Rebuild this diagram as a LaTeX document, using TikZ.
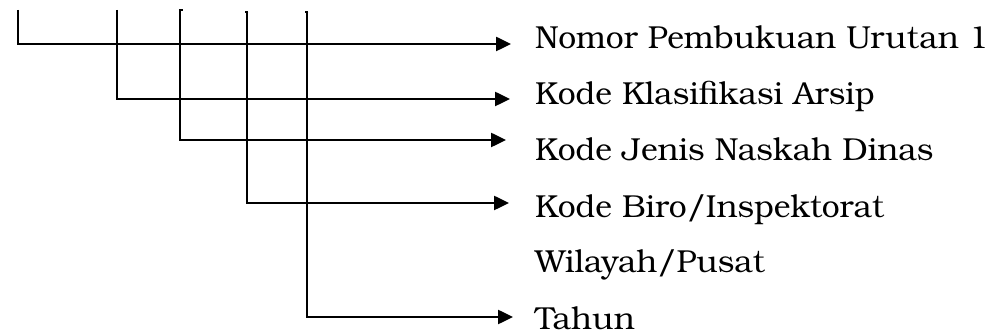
\documentclass[tikz,border=0pt]{standalone}
\usepackage{fontspec}
\setmainfont{TeX Gyre Bonum}
\usetikzlibrary{arrows.meta}
\tikzset{
  conn/.style={line width=2.5pt, -{Triangle[length=15pt,width=14pt]}},
  tick/.style={line width=2.5pt},
  lbl/.style={anchor=base west, inner sep=0pt, font=\fontsize{31.8}{36}\selectfont}
}
\begin{document}
\begin{tikzpicture}[x=1pt,y=-1pt]
\useasboundingbox (0,0) rectangle (995,336);
% label nodes
\node[lbl] (t1) at (535,49) {Nomor Pembukuan Urutan 1};
\node[lbl] (t2) at (535,105) {Kode Klasifikasi Arsip};
\node[lbl] (t3) at (535,161) {Kode Jenis Naskah Dinas};
\node[lbl] (t4) at (535,218) {Kode Biro/Inspektorat};
\node[lbl] (t5) at (535,273) {Wilayah/Pusat};
\node[lbl] (t6) at (535,329) {Tahun};
% vertical tops
\coordinate (a) at (18,10);
\coordinate (b) at (117,10);
\coordinate (c) at (180,10);
\coordinate (d) at (247,12);
\coordinate (e) at (307,12);
% arrow tips
\coordinate (ea) at (511,44);
\coordinate (eb) at (510,99);
\coordinate (ec) at (506,140);
\coordinate (ed) at (509,203);
\coordinate (ee) at (513,317);
\draw[conn] (a) |- (ea);
\draw[conn] (b) |- (eb);
\draw[conn] (c) |- (ec);
\draw[conn] (d) |- (ed);
\draw[conn] (e) |- (ee);
% small ticks at tops
\draw[tick] ([xshift=-1.25pt]c) -- ++(4,0);
\draw[tick] ([xshift=1.25pt]d) -- ++(-3,0);
\draw[tick] ([xshift=1.25pt]e) -- ++(-3,0);
\end{tikzpicture}
\end{document}
